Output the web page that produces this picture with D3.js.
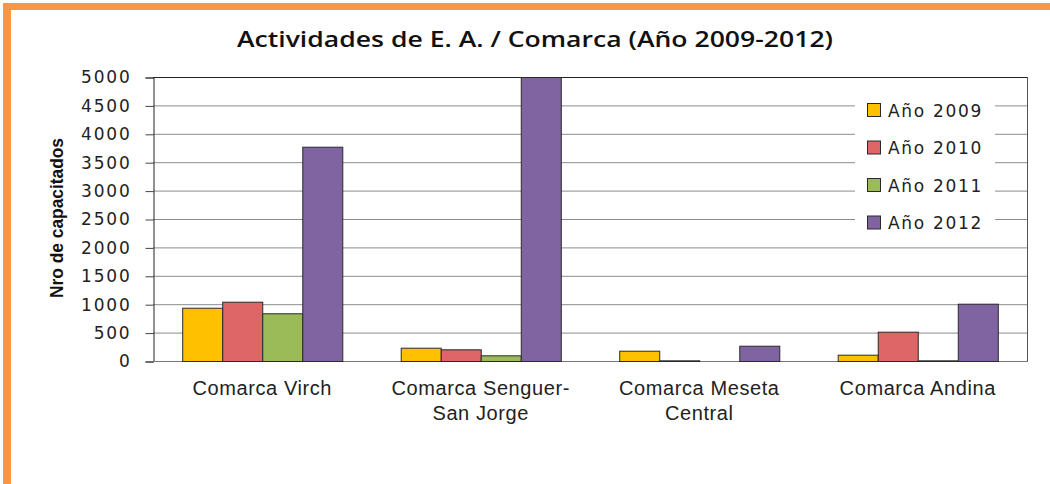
<!DOCTYPE html>
<html>
<head>
<meta charset="utf-8">
<script src="https://cdn.jsdelivr.net/npm/d3@7"></script>
<style>
  body { margin: 0; background: #fff; }
  svg { display: block; }
</style>
</head>
<body>
<svg id="chart" width="1050" height="484"></svg>
<script>
var categories = [["Comarca Virch"], ["Comarca Senguer-", "San Jorge"], ["Comarca Meseta", "Central"], ["Comarca Andina"]];
var seriesNames = ["Año 2009", "Año 2010", "Año 2011", "Año 2012"];
var seriesColors = ["#FFC000", "#DE6666", "#9BBB59", "#8064A2"];
var values2009 = [938, 234, 181, 111];
var values2010 = [1044, 206, 12, 516];
var values2011 = [840, 100, 0, 12];
var values2012 = [3773, 5000, 269, 1009];
var yTicks = [0, 500, 1000, 1500, 2000, 2500, 3000, 3500, 4000, 4500, 5000];

var allValues = [values2009, values2010, values2011, values2012];

var svg = d3.select("#chart");
var plot = { left: 153, right: 1027, top: 77, bottom: 361 };

// orange frame (top + left)
svg.append("rect").attr("x", 3).attr("y", 3).attr("width", 1047).attr("height", 7).attr("fill", "#F79646");
svg.append("rect").attr("x", 3).attr("y", 3).attr("width", 8).attr("height", 481).attr("fill", "#F79646");

// title
svg.append("text")
  .attr("x", 535).attr("y", 47)
  .attr("text-anchor", "middle")
  .attr("font-family", "Open Sans, Liberation Sans, Arial, sans-serif")
  .attr("font-weight", "600")
  .attr("font-size", 21)
  .attr("textLength", 596)
  .attr("lengthAdjust", "spacingAndGlyphs")
  .attr("fill", "#111")
  .text("Actividades de E. A. / Comarca (Año 2009-2012)");

var x0 = d3.scaleBand()
  .domain(d3.range(categories.length))
  .range([plot.left, plot.right])
  .padding(0);

var x1 = d3.scaleBand()
  .domain(d3.range(seriesNames.length))
  .range([0, x0.bandwidth()])
  .paddingInner(0)
  .paddingOuter(0.73);

var y = d3.scaleLinear()
  .domain([0, 5000])
  .range([plot.bottom, plot.top])
  .clamp(true);

// gridlines
svg.append("g").selectAll("line")
  .data(yTicks.slice(1, -1))
  .enter().append("line")
  .attr("x1", plot.left).attr("x2", plot.right)
  .attr("y1", function(d) { return y(d) + 0.5; })
  .attr("y2", function(d) { return y(d) + 0.5; })
  .attr("stroke", "#8c8c8c")
  .attr("stroke-width", 1);

// y axis
var yAxis = d3.axisLeft(y).tickValues(yTicks).tickFormat(d3.format("d")).tickSize(8).tickPadding(14);
var yg = svg.append("g")
  .attr("transform", "translate(" + (plot.left + 0.5) + ",0.5)")
  .call(yAxis);
yg.select(".domain").attr("stroke", "#222");
yg.selectAll(".tick line").attr("stroke", "#444");
yg.selectAll(".tick text")
  .attr("font-family", "DejaVu Sans, Verdana, sans-serif")
  .attr("font-size", 17)
  .attr("letter-spacing", "1.8px")
  .attr("fill", "#222");

// plot frame: top, right, bottom
svg.append("line").attr("x1", plot.left).attr("x2", plot.right + 1)
  .attr("y1", plot.top + 0.5).attr("y2", plot.top + 0.5).attr("stroke", "#222");
svg.append("line").attr("x1", plot.right + 0.5).attr("x2", plot.right + 0.5)
  .attr("y1", plot.top).attr("y2", plot.bottom).attr("stroke", "#555");
svg.append("line").attr("x1", plot.left).attr("x2", plot.right + 1)
  .attr("y1", plot.bottom + 0.5).attr("y2", plot.bottom + 0.5).attr("stroke", "#777");

// bars
var groups = svg.append("g").selectAll("g")
  .data(categories)
  .enter().append("g")
  .attr("transform", function(d, i) { return "translate(" + x0(i) + ",0)"; });

groups.selectAll("rect")
  .data(function(d, i) {
    return seriesNames.map(function(s, j) { return { s: j, v: allValues[j][i] }; });
  })
  .enter().append("rect")
  .filter(function(d) { return d.v > 0; })
  .attr("x", function(d) { return x1(d.s) + 0.5; })
  .attr("y", function(d) { return y(d.v) + 0.5; })
  .attr("width", x1.bandwidth())
  .attr("height", function(d) { return Math.max(0, y(0) - y(d.v)); })
  .attr("fill", function(d) { return seriesColors[d.s]; })
  .attr("stroke", "#2a2a2a")
  .attr("stroke-width", 1);

// category labels
var catLabels = svg.append("g").selectAll("text")
  .data(categories)
  .enter().append("text")
  .attr("x", function(d, i) { return x0(i) + x0.bandwidth() / 2; })
  .attr("y", 395)
  .attr("text-anchor", "middle")
  .attr("font-family", "Liberation Sans Narrow, Liberation Sans, Arial, sans-serif")
  .attr("font-size", 20)
  .attr("letter-spacing", "0.6px")
  .attr("fill", "#222");
catLabels.selectAll("tspan")
  .data(function(d) { return d; })
  .enter().append("tspan")
  .attr("x", function() { return d3.select(this.parentNode).attr("x"); })
  .attr("dy", function(d, i) { return i === 0 ? 0 : 25; })
  .text(function(d) { return d; });

// y axis title
svg.append("text")
  .attr("transform", "translate(63,218) rotate(-90)")
  .attr("text-anchor", "middle")
  .attr("font-family", "Liberation Sans, Arial, sans-serif")
  .attr("font-weight", "bold")
  .attr("font-size", 18)
  .attr("textLength", 160)
  .attr("lengthAdjust", "spacingAndGlyphs")
  .attr("fill", "#111")
  .text("Nro de capacitados");

// legend
var legend = svg.append("g");
legend.append("rect")
  .attr("x", 855).attr("y", 94).attr("width", 140).attr("height", 146)
  .attr("fill", "#fff");
var items = legend.selectAll("g.item")
  .data(seriesNames)
  .enter().append("g")
  .attr("class", "item")
  .attr("transform", function(d, i) { return "translate(867," + (110 + i * 37.5) + ")"; });
items.append("rect")
  .attr("x", 0.5).attr("y", -6.5)
  .attr("width", 13).attr("height", 13)
  .attr("fill", function(d, i) { return seriesColors[i]; })
  .attr("stroke", "#2a2a2a");
items.append("text")
  .attr("x", 21).attr("y", 6.5)
  .attr("font-family", "DejaVu Sans, Verdana, sans-serif")
  .attr("font-size", 17)
  .attr("letter-spacing", "1.7px")
  .attr("fill", "#222")
  .text(function(d) { return d; });
</script>
</body>
</html>
